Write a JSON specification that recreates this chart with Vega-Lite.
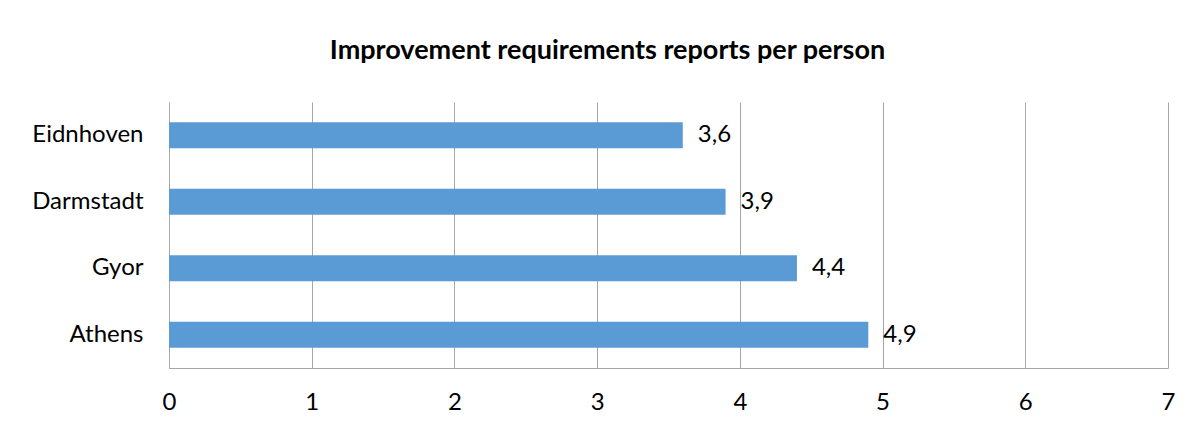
{
  "$schema": "https://vega.github.io/schema/vega-lite/v6.json",
  "autosize": "none",
  "width": 999,
  "height": 266,
  "padding": {"left": 169, "top": 102, "right": 22, "bottom": 59},
  "background": "white",
  "title": {
    "text": "Improvement requirements reports per person",
    "font": "Lato",
    "fontSize": 27,
    "fontWeight": "bold",
    "color": "#000000",
    "anchor": "middle",
    "baseline": "alphabetic",
    "offset": 16,
    "dx": -61
  },
  "data": {
    "values": [
      {"city": "Eidnhoven", "value": 3.6},
      {"city": "Darmstadt", "value": 3.9},
      {"city": "Gyor", "value": 4.4},
      {"city": "Athens", "value": 4.9}
    ]
  },
  "encoding": {
    "y": {
      "field": "city",
      "type": "nominal",
      "sort": ["Eidnhoven", "Darmstadt", "Gyor", "Athens"],
      "scale": {"paddingInner": 0.61, "paddingOuter": 0.305},
      "axis": {
        "title": null,
        "ticks": false,
        "grid": false,
        "domain": true,
        "domainColor": "#a6a6a6",
        "domainWidth": 1,
        "labelFont": "Lato",
        "labelFontSize": 24,
        "labelColor": "#000000",
        "labelPadding": 26
      }
    },
    "x": {
      "field": "value",
      "type": "quantitative",
      "scale": {"domain": [0, 7], "nice": false},
      "axis": {
        "title": null,
        "values": [0, 1, 2, 3, 4, 5, 6, 7],
        "format": "d",
        "ticks": false,
        "grid": true,
        "gridColor": "#a6a6a6",
        "gridWidth": 1,
        "domain": true,
        "domainColor": "#a6a6a6",
        "labelFont": "Lato",
        "labelFontSize": 24,
        "labelColor": "#000000",
        "labelPadding": 22,
        "labelFlush": false
      }
    }
  },
  "layer": [
    {"mark": {"type": "bar", "color": "#5b9bd5"}},
    {
      "mark": {"type": "text", "align": "left", "baseline": "middle", "dx": 15, "font": "Lato", "fontSize": 24, "color": "#000000"},
      "encoding": {"text": {"field": "value", "type": "quantitative", "format": ".1f"}}
    }
  ],
  "config": {
    "view": {"stroke": null},
    "locale": {"number": {"decimal": ",", "thousands": ".", "grouping": [3], "currency": ["", " €"]}}
  }
}
